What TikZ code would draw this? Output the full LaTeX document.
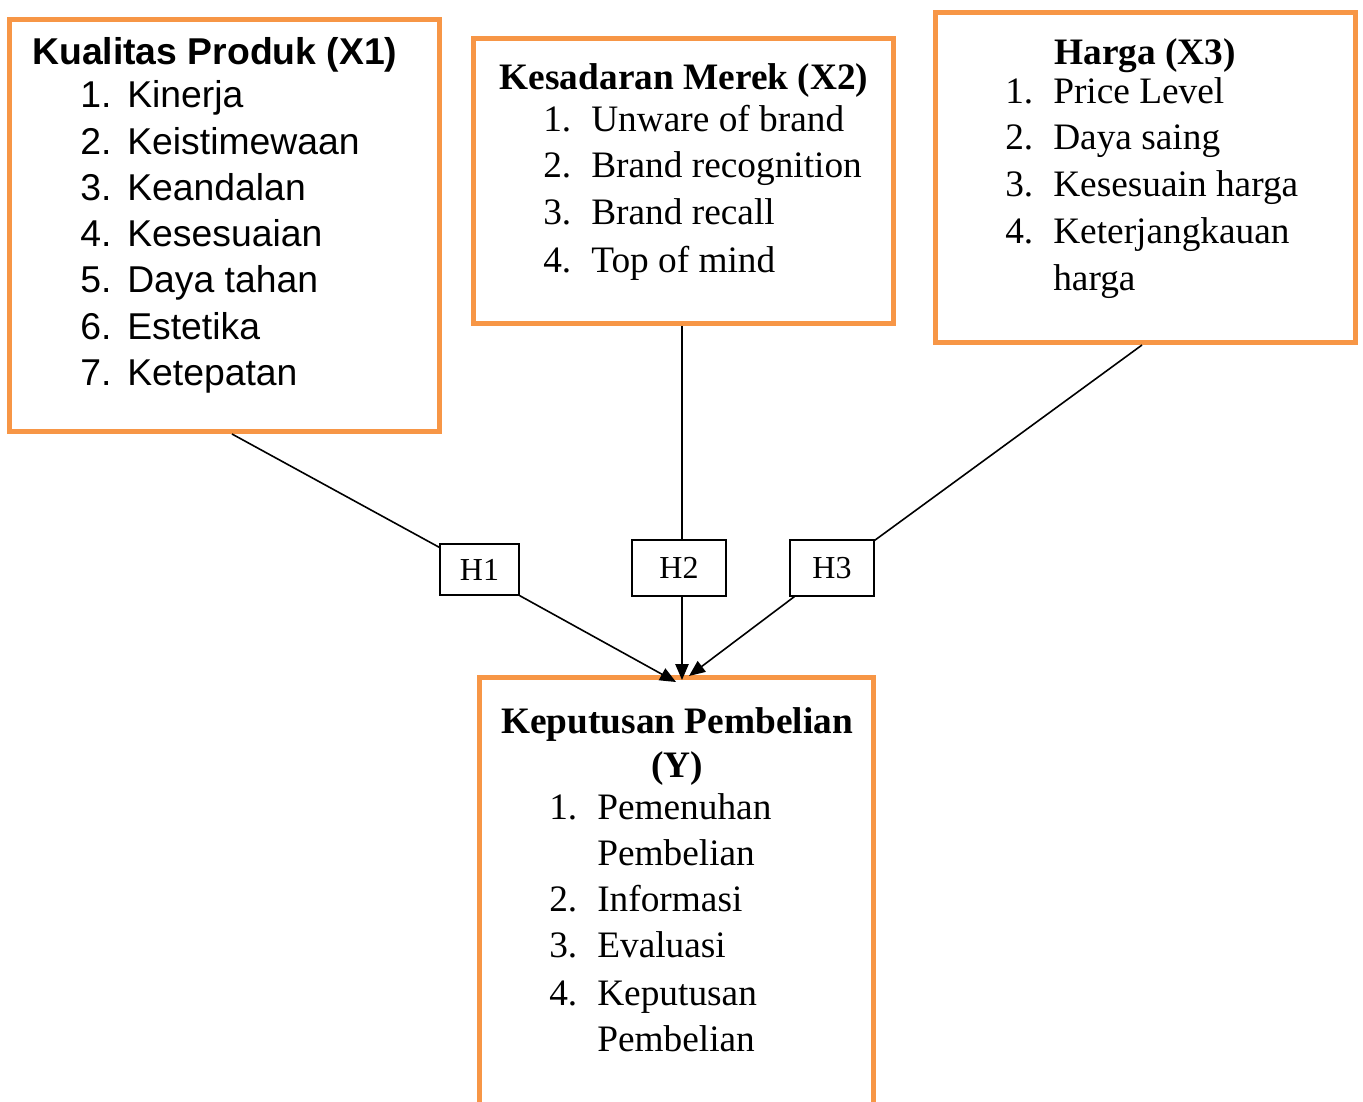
\documentclass[tikz,border=0pt]{standalone}
\usepackage{fontspec}
\setmainfont{Liberation Serif}
\newfontfamily\arialf{Liberation Sans}
\usetikzlibrary{arrows.meta,calc}
\definecolor{boxorange}{HTML}{F79646}
\begin{document}
\begin{tikzpicture}[x=0.75pt,y=-0.75pt,
  obox/.style={draw=boxorange,line width=3.75pt,inner sep=0pt},
  hbox/.style={draw=black,line width=0.9pt,inner sep=0pt,font=\fontsize{24pt}{28pt}\selectfont},
  txt/.style={anchor=base west,inner sep=0pt,font=\fontsize{28pt}{33pt}\selectfont},
  ttl/.style={anchor=base,inner sep=0pt,font=\fontsize{28pt}{33pt}\selectfont\bfseries},
  conn/.style={line width=1.2pt},
  arr/.style={line width=1.2pt,-{Triangle[length=12pt,width=10pt]}}]
\useasboundingbox (0,0) rectangle (1363,1102);
\fill[white] (0,0) rectangle (1363,1102);
% boxes
\node[obox,minimum width=322.5pt,minimum height=309pt] (x1) at (224.5,225.5) {};
\node[obox,minimum width=315pt,minimum height=213.75pt] (x2) at (683.5,181) {};
\node[obox,minimum width=315pt,minimum height=247.5pt] (x3) at (1145.5,177.5) {};
\node[inner sep=0pt,minimum width=295.5pt,minimum height=319.9pt] (y) at (676.5,890.75) {};
\draw[boxorange,line width=3.75pt] (y.south west) -- (y.north west) -- (y.north east) -- (y.south east);
% H boxes
\node[hbox,minimum width=59.25pt,minimum height=38.25pt] (h1) at (479.5,569.5) {H1};
\node[hbox,minimum width=70.5pt,minimum height=42pt] (h2) at (679,568) {H2};
\node[hbox,minimum width=63pt,minimum height=42pt] (h3) at (832,568) {H3};
% X1 text
\node[txt,font=\arialf\fontsize{28pt}{33pt}\selectfont\bfseries] (t1) at (32,65) {Kualitas Produk (X1)};
\foreach \n/\t [count=\i from 0] in {1/Kinerja,2/Keistimewaan,3/Keandalan,4/Kesesuaian,5/Daya tahan,6/Estetika,7/Ketepatan}{
  \node[txt,font=\arialf\fontsize{28pt}{33pt}\selectfont] (x1n\n) at (80,108+46.2*\i) {\n.};
  \node[txt,font=\arialf\fontsize{28pt}{33pt}\selectfont] (x1t\n) at (127,108+46.2*\i) {\t};
}
% X2 text
\node[ttl] (t2) at (684,90) {Kesadaran Merek (X2)};
\foreach \n/\t/\b in {1/Unware of brand/132,2/Brand recognition/178,3/Brand recall/224,4/Top of mind/272}{
  \node[txt] (x2n\n) at (543,\b) {\n.};
  \node[txt] (x2t\n) at (591,\b) {\t};
}
% X3 text
\node[ttl] (t3) at (1145,65) {Harga (X3)};
\foreach \n/\t/\b in {1/Price Level/104,2/Daya saing/150,3/Kesesuain harga/196,4/Keterjangkauan/243}{
  \node[txt] (x3n\n) at (1005,\b) {\n.};
  \node[txt] (x3t\n) at (1053,\b) {\t};
}
\node[txt] (x3t5) at (1053,290) {harga};
% Y text
\node[ttl] (ty1) at (677,733) {Keputusan Pembelian};
\node[ttl] (ty2) at (677,777) {(Y)};
\node[txt] (yn1) at (549,819) {1.};
\node[txt] (yt1) at (597,819) {Pemenuhan};
\node[txt] (yt1b) at (597,865) {Pembelian};
\node[txt] (yn2) at (549,911) {2.};
\node[txt] (yt2) at (597,911) {Informasi};
\node[txt] (yn3) at (549,957) {3.};
\node[txt] (yt3) at (597,957) {Evaluasi};
\node[txt] (yn4) at (549,1005) {4.};
\node[txt] (yt4) at (597,1005) {Keputusan};
\node[txt] (yt4b) at (597,1051) {Pembelian};
% connector end points
\coordinate (p1) at ($(x1.south)+(7.5,0)$);
\coordinate (p2) at ($(x2.south)+(-1.5,0)$);
\coordinate (p3) at ($(x3.south)+(-3.5,0)$);
\coordinate (tip1) at (676,682);
\coordinate (tip2) at (682,680);
\coordinate (tip3) at (689,676);
% connectors
\draw[conn] (p1) -- ($(h1.north west)+(0,4)$);
\draw[arr] (h1.south east) -- (tip1);
\draw[conn] (p2) -- ($(h2.north)+(3,0)$);
\draw[arr] ($(h2.south)+(3,0)$) -- (tip2);
\draw[conn] (p3) -- ($(h3.north east)+(0,1)$);
\draw[arr] ($(h3.south west)+(5,0)$) -- (tip3);
\end{tikzpicture}
\end{document}
